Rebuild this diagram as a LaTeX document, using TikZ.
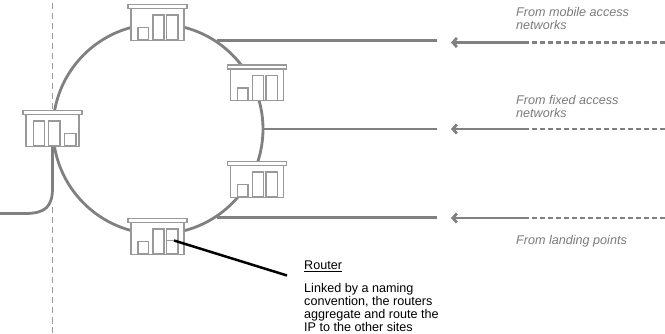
\documentclass[tikz,border=0pt]{standalone}
\usepackage{fontspec}
\setmainfont{Liberation Sans}
\usepackage{xcolor}
\usetikzlibrary{positioning, arrows.meta}
\definecolor{linegray}{HTML}{808080}
\definecolor{edgegray}{HTML}{999999}
\definecolor{labelgray}{HTML}{7A7A7A}
\tikzset{
	routerbody/.style={draw=edgegray, fill=white, line width=1.1pt, minimum width=53pt, minimum height=31.5pt, inner sep=0pt},
	routerroof/.style={draw=edgegray, fill=white, line width=1.1pt, minimum width=59pt, minimum height=4pt, inner sep=0pt},
	routerbar/.style={draw=edgegray, line width=1.1pt},
	feed/.style={draw=linegray, line width=2.8pt},
	feeddash/.style={draw=linegray, line width=2.8pt, dash pattern=on 5.3pt off 2.7pt},
	border/.style={draw=edgegray, line width=1pt, dash pattern=on 6.5pt off 3.5pt},
	sourcelabel/.style={text=labelgray, font=\fontsize{12.6}{13.1}\selectfont\itshape, align=left, anchor=north west, inner sep=0pt},
	notelabel/.style={text=black, font=\fontsize{12.6}{13.1}\selectfont, align=left, anchor=north west, inner sep=0pt},
	router/.pic={
		\node[routerbody] (-body) at (0,0.5) {};
		\node[routerroof] (-roof) at (0,-17.5) {};
		\draw[routerbar] (-19.5,16) rectangle (-9,3.5);
		\draw[routerbar] (-4.5,16) rectangle (6.5,-9);
		\draw[routerbar] (9,16) rectangle (20.5,-9);
	},
	routerflip/.pic={
		\node[routerbody] (-body) at (0,0.5) {};
		\node[routerroof] (-roof) at (0,-17.5) {};
		\draw[routerbar] (-19,16) rectangle (-8,-9);
		\draw[routerbar] (-4,16) rectangle (7.5,-9);
		\draw[routerbar] (12,16) rectangle (23.5,3.5);
	}
}

\begin{document}
\begin{tikzpicture}[x=1pt, y=-1pt]
	\useasboundingbox (0,0) rectangle (665,334);
	\node[circle, draw=linegray, line width=2.8pt, minimum size=210pt, inner sep=0pt] (ring) at (158,129) {};
	
	\coordinate (mobilestop) at (437,42.5);
	\coordinate (fixedstop) at (437,129);
	\coordinate (landingstop) at (437,218);
	\draw[feed] (ring.56) -- (ring.56 -| mobilestop);
	\draw[feed] (ring.east) -- (fixedstop);
	\draw[feed] (ring.-56) -- (ring.-56 -| landingstop);
	
	\coordinate (bordertop) at (52.5,3);
	\coordinate (borderbottom) at (52.5,333);
	\coordinate (cableend) at (0,213.5);
	\pic (westsite) at (52.5,130) {routerflip};
	\draw[border] (bordertop) -- (westsite-roof.north);
	\draw[border] (52.5,207) -- (borderbottom);
	\draw[feed] (westsite-body.south) -- (52.5,188) .. controls (52.5,207) and (45,213.5) .. (25,213.5) -- (cableend);
	
	\pic (northsite) at (157.5,24) {router};
	\pic (eastsite) at (257,84.5) {router};
	\pic (lowsite) at (257,181) {router};
	\pic (southsite) at (157.5,238) {router};
	
	\foreach \name/\y in {mobile/42.5, fixed/129, landing/218} {
		\coordinate (\name far) at (665,\y);
		\coordinate (\name mid) at (527,\y);
		\coordinate (\name tip) at (451,\y);
		\draw[feeddash] (\name far) -- (\name mid);
		\draw[feed, -{Straight Barb[length=4pt, width=9pt]}] (\name mid) -- (\name tip);
	}
	
	\node[sourcelabel] (mobilelabel) at (516,7) {From mobile access\\networks};
	\node[sourcelabel] (fixedlabel) at (516,95.5) {From fixed access\\networks};
	\node[sourcelabel] (landinglabel) at (516,235) {From landing points};
	
	\node[notelabel] (routerlabel) at (304,261) {\underline{Router}};
	\node[notelabel, below=10.5pt of routerlabel.south west, anchor=north west] (routernote) {Linked by a naming\\convention, the routers\\aggregate and route the\\IP to the other sites};
	
	\coordinate (leaderstart) at (174,240.5);
	\coordinate (leaderend) at (287,275.5);
	\draw[edgegray, line width=1.5pt] (166.5,240.5) -- (leaderstart);
	\draw[black, line width=2.5pt] (leaderstart) -- (leaderend);
\end{tikzpicture}
\end{document}
